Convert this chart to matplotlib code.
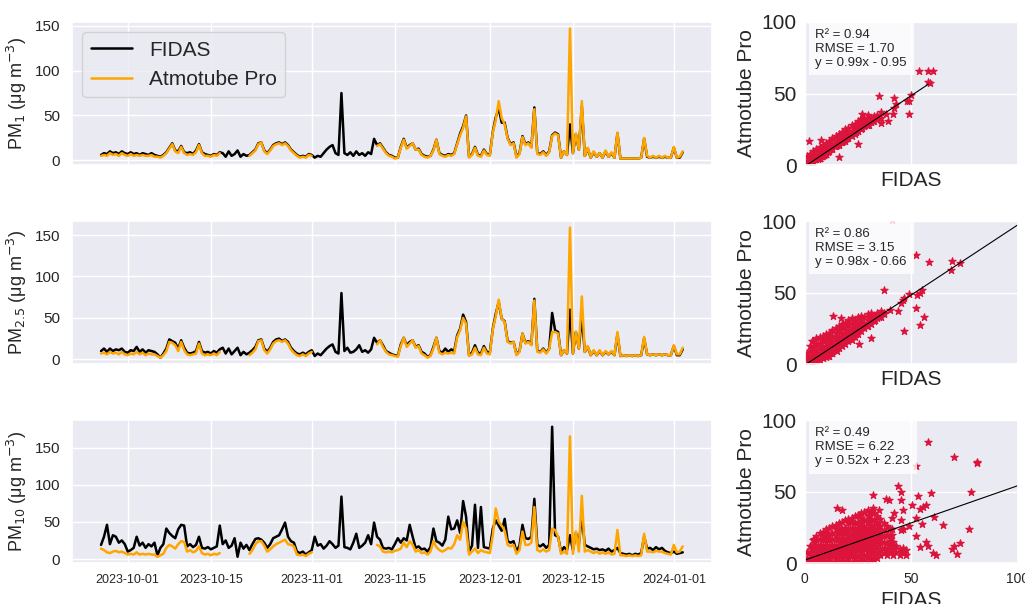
import matplotlib
matplotlib.use("Agg")
import matplotlib.pyplot as plt
import matplotlib.dates as mdates
import numpy as np
import pandas as pd
import seaborn as sns

nan = np.nan

# 12-hourly values, 2023-09-26 12:00 .. 2024-01-02 12:00
start = "2023-09-26 12:00"

pm1_fidas = ([6, 8, 7, 10, 8, 9, 7, 10, 8]
             + [7, 9, 7, 8, 6, 8, 7, 6, 8, 6, 5, 4, 6, 9]
             + [14, 19, 11, 10, 16, 9, 8, 9, 7, 11, 18, 9, 7, 6, 5, 7, 6, 9]
             + [8, 4, 10, 5, 7, 11, 4, 7, 5]
             + [6, 9, 12, 19, 20, 11, 8, 12, 17, 19, 20, 18, 20, 17, 12, 9, 6, 4, 5, 4, 7, 6]
             + [3, 5, 4, 8, 12, 15, 17, 8, 6, 75, 8, 6, 9, 5, 10, 6, 8, 5, 9, 7, 24]
             + [17, 19, 14, 9, 6, 5, 3, 3, 15, 24,
                14, 17, 19, 12, 13, 7, 5, 4, 5, 12,
                23, 8, 6, 5, 7, 6, 8, 19, 30, 38,
                50, 4, 7, 15, 6, 5, 12, 7, 6, 32,
                48, 58, 42, 42, 25, 18, 20, 4, 8, 27,
                18, 20, 15, 59, 8, 7, 10, 6, 10, 28,
                31, 29, 3, 10, 6, 40, 8, 29, 12, 60,
                5, 13, 3, 9, 4, 8, 3, 10, 4, 8,
                3, 30, 2, 2, 2, 2, 2, 2, 2, 3,
                24, 4, 3, 4, 3, 4, 3, 4, 3, 3,
                14, 3, 3, 9])
pm1_atmo = ([5, 6, 5, 8, 6, 7, 5, 8, 6]
            + [5, 7, 5, 6, 5, 6, 5, 5, 6, 4, 4, 3, 5, 8]
            + [13, 18, 10, 8, 15, 8, 6, 7, 6, 9, 17, 8, 5, 5, 4, 6, 5, 8]
            + [nan] * 9
            + [5, 8, 11, 18, 20, 10, 7, 11, 16, 18, 19, 17, 19, 16, 11, 8, 5, 3, 4, 3, 6, 5]
            + [nan] * 21
            + [16, 18, 13, 8, 5, 4, 2, 3, 14, 23,
               13, 16, 19, 12, 12, 6, 4, 3, 5, 11,
               23, 7, 5, 4, 6, 5, 7, 18, 28, 36,
               49, 3, 6, 14, 5, 4, 11, 6, 5, 31,
               45, 66, 47, 40, 24, 17, 19, 3, 7, 26,
               17, 19, 14, 57, 7, 6, 9, 5, 9, 27,
               30, 28, 3, 10, 6, 147, 8, 30, 12, 66,
               5, 14, 3, 10, 4, 8, 3, 11, 4, 9,
               3, 31, 2, 2, 2, 2, 2, 2, 2, 3,
               25, 5, 3, 5, 3, 5, 3, 5, 3, 3,
               15, 3, 4, 10])

pm25_fidas = ([10, 13, 9, 13, 10, 12, 11, 13, 9]
              + [8, 11, 10, 15, 9, 12, 8, 11, 10, 9, 6, 2, 7, 13]
              + [24, 22, 20, 13, 23, 14, 8, 7, 8, 10, 21, 10, 8, 9, 7, 10, 8, 12]
              + [14, 7, 13, 6, 10, 14, 5, 9, 6]
              + [8, 11, 15, 23, 24, 13, 9, 14, 21, 24, 25, 22, 24, 21, 14, 10, 7, 6, 8, 6, 9, 11]
              + [4, 7, 5, 9, 13, 16, 18, 9, 7, 80, 10, 14, 8, 9, 12, 17, 9, 11, 8, 12, 26]
              + [20, 23, 17, 10, 8, 6, 5, 4, 18, 26,
                 17, 21, 23, 15, 17, 9, 7, 3, 5, 15,
                 26, 10, 8, 13, 9, 12, 10, 29, 37, 54,
                 45, 5, 8, 17, 8, 7, 16, 9, 8, 37,
                 55, 69, 49, 46, 22, 20, 21, 6, 10, 31,
                 20, 22, 18, 73, 10, 9, 13, 8, 13, 56,
                 35, 33, 5, 11, 7, 60, 7, 33, 13, 52,
                 9, 15, 5, 10, 5, 10, 5, 9, 6, 9,
                 5, 30, 4, 5, 4, 5, 4, 5, 4, 5,
                 25, 6, 5, 6, 5, 6, 5, 6, 5, 5,
                 16, 5, 5, 12])
pm25_atmo = ([7, 8, 6, 9, 7, 8, 6, 9, 6]
             + [5, 7, 6, 9, 6, 8, 5, 7, 6, 6, 4, 2, 5, 10]
             + [21, 20, 17, 10, 21, 11, 6, 5, 6, 7, 19, 7, 5, 6, 5, 7, 5, 9]
             + [nan] * 9
             + [5, 8, 12, 22, 23, 11, 7, 12, 19, 22, 23, 21, 23, 19, 12, 8, 5, 4, 6, 4, 7, 9]
             + [nan] * 21
             + [18, 23, 15, 9, 6, 5, 4, 3, 16, 26,
                15, 19, 23, 14, 16, 7, 5, 2, 4, 13,
                26, 8, 6, 8, 7, 8, 7, 27, 35, 50,
                43, 4, 6, 14, 6, 5, 14, 7, 6, 36,
                52, 72, 49, 45, 21, 19, 21, 5, 9, 31,
                19, 21, 17, 71, 9, 8, 12, 7, 12, 33,
                33, 31, 5, 11, 7, 159, 7, 33, 13, 76,
                9, 16, 5, 11, 5, 11, 5, 10, 6, 10,
                5, 33, 4, 5, 4, 5, 4, 5, 4, 5,
                27, 6, 5, 6, 5, 6, 5, 6, 5, 5,
                17, 6, 6, 14])

pm10_fidas = ([19, 30, 46, 20, 32, 30, 22, 25, 20]
              + [10, 12, 15, 30, 18, 22, 15, 20, 17, 22, 5, 15, 20, 41]
              + [35, 31, 28, 40, 46, 45, 17, 20, 16, 19, 30, 15, 14, 16, 13, 15, 17, 45]
              + [20, 25, 15, 18, 28, 3, 22, 14, 19]
              + [12, 20, 27, 28, 26, 22, 15, 20, 28, 30, 32, 40, 49, 30, 24, 22, 10, 8, 10, 6, 9, 12]
              + [30, 18, 20, 14, 18, 24, 20, 15, 18, 84, 16, 15, 13, 22, 34, 15, 18, 22, 32, 20, 49]
              + [30, 26, 15, 14, 15, 13, 20, 28, 22, 28,
                 25, 46, 30, 15, 17, 13, 14, 10, 16, 41,
                 24, 22, 18, 26, 57, 40, 41, 52, 35, 78,
                 57, 10, 18, 73, 15, 70, 16, 15, 14, 41,
                 52, 45, 38, 54, 24, 22, 24, 10, 18, 46,
                 28, 27, 30, 81, 19, 17, 20, 15, 19, 178,
                 32, 30, 10, 16, 12, 32, 12, 35, 20, 58,
                 19, 17, 15, 13, 14, 12, 13, 11, 14, 10,
                 12, 15, 8, 7, 6, 7, 5, 7, 6, 8,
                 30, 14, 15, 12, 16, 13, 15, 11, 9, 8,
                 10, 7, 8, 9])
pm10_atmo = ([14, 12, 9, 8, 10, 11, 9, 10, 8]
             + [6, 7, 6, 9, 6, 7, 6, 7, 6, 6, 3, 5, 7, 15]
             + [19, 17, 14, 20, 24, 23, 10, 12, 9, 11, 17, 8, 6, 7, 5, 7, 6, 8]
             + [nan] * 9
             + [7, 12, 20, 24, 24, 18, 10, 13, 17, 20, 22, 24, 26, 20, 19, 17, 6, 5, 6, 4, 7, 9]
             + [nan] * 21
             + [19, 17, 10, 9, 10, 9, 11, 12, 14, 22,
                16, 24, 19, 10, 12, 8, 9, 6, 10, 24,
                16, 12, 10, 12, 15, 14, 20, 32, 26, 50,
                41, 6, 10, 14, 8, 12, 10, 9, 8, 32,
                68, 50, 45, 38, 19, 17, 19, 7, 12, 37,
                19, 19, 22, 70, 12, 10, 13, 10, 12, 41,
                39, 30, 7, 10, 7, 165, 7, 37, 10, 85,
                10, 12, 10, 8, 10, 7, 9, 7, 9, 6,
                7, 39, 5, 5, 4, 5, 4, 5, 4, 5,
                34, 10, 10, 9, 11, 10, 10, 8, 7, 6,
                19, 9, 10, 17])

# further (FIDAS, Atmotube) points
pm1_points = [
    (53.6, 66), (58, 58), (34.7, 48), (48.9, 44.5), (48.9, 35.7), (43, 43), (41.3, 35.7),
    (35.8, 29.3), (27, 35.7), (25.2, 14.8), (16, 5.5), (2.2, 17), (7.4, 17.6), (39, 31),
    (1, 0), (1, 3), (1, 6), (2.5, 1), (2.5, 4.5), (2.5, 8), (4, 2), (4, 6), (4, 9.5),
    (5.5, 4), (5.5, 7.5), (5.5, 11), (7, 5), (7, 9), (7, 12.5), (8.5, 7), (8.5, 10.5), (8.5, 14),
    (10, 8), (10, 12), (10, 15.5), (11.5, 10), (11.5, 13.5), (11.5, 17), (13, 11), (13, 15),
    (13, 19), (14.5, 13), (14.5, 16.5), (14.5, 20), (16, 14), (16, 18), (16, 22), (17.5, 16),
    (17.5, 19.5), (17.5, 23), (19, 17), (19, 21), (19, 25), (20.5, 19), (20.5, 22.5), (20.5, 26),
    (22, 20), (22, 24), (22, 28), (23.5, 22), (23.5, 25.5), (23.5, 29), (25, 24), (25, 27),
    (25, 31), (26.5, 25), (26.5, 28.5), (26.5, 32), (28, 27), (28, 30), (28, 33), (29.5, 28),
    (29.5, 31.5), (29.5, 35), (31, 30), (31, 33), (32.5, 31), (32.5, 34), (34, 32), (34, 35),
    (36, 33), (36, 37)]
pm25_points = [
    (40.9, 101), (58.3, 71.6), (68.8, 65.7), (37, 52), (46.5, 46), (52.8, 48),
    (52, 39), (53.9, 27.4), (46.5, 23), (13.2, 34), (17.2, 32.4), (31.3, 18), (25.5, 14.2),
    (3.5, 16), (40, 38), (44, 37),
    (1, 0), (1, 4), (1, 8), (2.5, 1), (2.5, 5), (2.5, 9), (2.5, 13), (4, 0), (4, 4), (4, 8),
    (4, 12), (4, 16), (5.5, 2), (5.5, 6), (5.5, 10), (5.5, 14), (5.5, 18), (7, 3), (7, 7),
    (7, 11), (7, 15), (7, 19), (8.5, 4), (8.5, 8), (8.5, 12), (8.5, 16), (8.5, 20), (10, 5),
    (10, 9), (10, 13), (10, 17), (10, 21), (11.5, 6), (11.5, 10), (11.5, 14), (11.5, 18),
    (11.5, 22), (13, 8), (13, 12), (13, 16), (13, 20), (13, 24), (14.5, 10), (14.5, 14),
    (14.5, 18), (14.5, 22), (14.5, 25), (16, 11), (16, 15), (16, 19), (16, 23), (16, 27),
    (17.5, 13), (17.5, 17), (17.5, 21), (17.5, 25), (17.5, 28), (19, 14), (19, 18), (19, 22),
    (19, 26), (19, 29), (20.5, 16), (20.5, 20), (20.5, 24), (20.5, 28), (20.5, 31), (22, 17),
    (22, 21), (22, 25), (22, 29), (22, 32), (23.5, 19), (23.5, 23), (23.5, 27), (23.5, 31),
    (25, 21), (25, 25), (25, 29), (25, 33), (26.5, 23), (26.5, 27), (26.5, 31), (26.5, 34),
    (28, 25), (28, 29), (28, 33), (29.5, 27), (29.5, 31), (29.5, 35), (31, 28), (31, 32),
    (31, 36), (32.5, 30), (32.5, 34), (34, 32), (34, 36), (36, 33), (36, 37)]
pm10_points = [
    (70, 74), (81, 70.6), (44, 54), (32, 47.5), (53.4, 47.3), (59.5, 49),
    (39.7, 44.5), (45, 44.2), (50.4, 41), (55.7, 39.4), (60.6, 32.6), (65, 27), (55, 27.5),
    (76.9, 23.9), (52, 18.9), (53.9, 11.3), (57.8, 12), (69.3, 10), (71.3, 6.6), (60, 7),
    (61.4, 5.7), (17.6, 37), (25.5, 34), (4.3, 17), (42, 35), (45, 30),
    (1, 0), (1, 4), (1, 8), (2.5, 0), (2.5, 4), (2.5, 8), (2.5, 12), (4, 1), (4, 5), (4, 9),
    (4, 13), (4, 16), (5.5, 0), (5.5, 4), (5.5, 8), (5.5, 12), (5.5, 16), (5.5, 19), (7, 1),
    (7, 5), (7, 9), (7, 13), (7, 17), (7, 21), (8.5, 0), (8.5, 4), (8.5, 8), (8.5, 12),
    (8.5, 16), (8.5, 20), (8.5, 22), (10, 1), (10, 5), (10, 9), (10, 13), (10, 17), (10, 21),
    (10, 24), (11.5, 0), (11.5, 4), (11.5, 8), (11.5, 12), (11.5, 16), (11.5, 20), (11.5, 25),
    (13, 1), (13, 5), (13, 9), (13, 13), (13, 17), (13, 21), (13, 26), (14.5, 0), (14.5, 4),
    (14.5, 8), (14.5, 12), (14.5, 16), (14.5, 20), (14.5, 24), (14.5, 27), (16, 1), (16, 5),
    (16, 9), (16, 13), (16, 17), (16, 21), (16, 25), (16, 28), (17.5, 0), (17.5, 4), (17.5, 8),
    (17.5, 12), (17.5, 16), (17.5, 20), (17.5, 24), (17.5, 29), (19, 1), (19, 5), (19, 9),
    (19, 13), (19, 17), (19, 21), (19, 25), (19, 30), (20.5, 0), (20.5, 4), (20.5, 8),
    (20.5, 12), (20.5, 16), (20.5, 20), (20.5, 24), (20.5, 28), (20.5, 31), (22, 1), (22, 5),
    (22, 9), (22, 13), (22, 17), (22, 21), (22, 25), (22, 29), (22, 32), (23.5, 0), (23.5, 4),
    (23.5, 8), (23.5, 12), (23.5, 16), (23.5, 20), (23.5, 24), (23.5, 28), (23.5, 33), (25, 1),
    (25, 5), (25, 9), (25, 13), (25, 17), (25, 21), (25, 25), (25, 29), (25, 34), (26.5, 0),
    (26.5, 4), (26.5, 8), (26.5, 12), (26.5, 16), (26.5, 20), (26.5, 24), (26.5, 28),
    (26.5, 32), (26.5, 35), (28, 2), (28, 6), (28, 10), (28, 14), (28, 18), (28, 22), (28, 26),
    (28, 30), (28, 36), (29.5, 1), (29.5, 5), (29.5, 9), (29.5, 13), (29.5, 17), (29.5, 21),
    (29.5, 25), (29.5, 29), (29.5, 33), (29.5, 37), (31, 3), (31, 7), (31, 11), (31, 15),
    (31, 19), (31, 23), (31, 27), (31, 31), (31, 36), (32.5, 2), (32.5, 6), (32.5, 10),
    (32.5, 14), (32.5, 18), (32.5, 22), (32.5, 26), (32.5, 30), (32.5, 35), (34, 4), (34, 8),
    (34, 12), (34, 16), (34, 20), (34, 24), (34, 28), (34, 33), (35.5, 6), (35.5, 10),
    (35.5, 14), (35.5, 18), (35.5, 22), (35.5, 26), (35.5, 31), (37, 7), (37, 11), (37, 15),
    (37, 19), (37, 23), (37, 28), (38.5, 6), (38.5, 10), (38.5, 14), (38.5, 20), (38.5, 26),
    (40, 8), (40, 12), (40, 18), (40, 24), (41.5, 6), (41.5, 10), (41.5, 15), (43, 8), (43, 12),
    (44.5, 6), (44.5, 10), (46, 8), (46, 11), (47.5, 6), (47.5, 9)]

r2 = [0.94, 0.86, 0.49]
rmse = [1.70, 3.15, 6.22]
slope = [0.99, 0.98, 0.52]
intercept = [-0.95, -0.66, 2.23]
fit_end = [58, 100, 100]

ylabels = ["PM$_{1}$ (μg m$^{-3}$)", "PM$_{2.5}$ (μg m$^{-3}$)", "PM$_{10}$ (μg m$^{-3}$)"]
tick_dates = ["2023-10-01", "2023-10-15", "2023-11-01", "2023-11-15",
              "2023-12-01", "2023-12-15", "2024-01-01"]

sns.set_theme(style="darkgrid")
plt.rcParams["font.family"] = ["Liberation Sans", "DejaVu Sans"]

times = pd.date_range(start, periods=len(pm1_fidas), freq="12h")
fidas = [pm1_fidas, pm25_fidas, pm10_fidas]
atmo = [pm1_atmo, pm25_atmo, pm10_atmo]
extra = [pm1_points, pm25_points, pm10_points]

fig = plt.figure(figsize=(10.25, 6.04), dpi=100)
gs = fig.add_gridspec(3, 2, width_ratios=[640, 213], left=0.0702, right=0.9929,
                      top=0.9636, bottom=0.0674, hspace=0.392, wspace=0.218)

ts0 = None
for r in range(3):
    ax = fig.add_subplot(gs[r, 0], sharex=ts0)
    if ts0 is None:
        ts0 = ax
    ax.plot(times, fidas[r], color="black", lw=1.8, label="FIDAS")
    ax.plot(times, atmo[r], color="orange", lw=1.8, label="Atmotube Pro")
    ax.set_yticks([0, 50, 100, 150])
    ax.set_ylabel(ylabels[r], fontsize=13)
    ax.set_xticks(pd.to_datetime(tick_dates))
    ax.xaxis.set_major_formatter(mdates.DateFormatter("%Y-%m-%d"))
    ax.tick_params(axis="y", labelsize=11, pad=2.5)
    ax.tick_params(axis="x", labelsize=9, pad=2)
    if r < 2:
        ax.tick_params(labelbottom=False)
    if r == 0:
        ax.legend(loc="upper left", fontsize=15)

    sx = fig.add_subplot(gs[r, 1])
    f = np.array(fidas[r], dtype=float)
    a = np.array(atmo[r], dtype=float)
    ok = ~np.isnan(f) & ~np.isnan(a)
    ex = np.array(extra[r], dtype=float)
    px = np.concatenate([f[ok], ex[:, 0]])
    py = np.concatenate([a[ok], ex[:, 1]])
    sx.scatter(px, py, marker="*", color="crimson", edgecolors="crimson", s=30, linewidths=0.8)
    xe = fit_end[r]
    sx.plot([0, xe], [intercept[r], slope[r] * xe + intercept[r]], color="black", lw=0.8)
    sign = "+" if intercept[r] >= 0 else "-"
    txt = f"R² = {r2[r]:.2f}\nRMSE = {rmse[r]:.2f}\ny = {slope[r]:.2f}x {sign} {abs(intercept[r]):.2f}"
    sx.text(0.05, 0.95, txt, transform=sx.transAxes, ha="left", va="top", fontsize=9.5,
            bbox=dict(boxstyle="square,pad=0.5", facecolor="white", edgecolor="none", alpha=0.8))
    sx.set_xlim(0, 100)
    sx.set_ylim(0, 100)
    sx.set_xticks([0, 50, 100])
    sx.set_yticks([0, 50, 100])
    sx.tick_params(axis="y", labelsize=15, pad=0)
    sx.tick_params(axis="x", labelsize=10, pad=0)
    sx.set_ylabel("Atmotube Pro", fontsize=15)
    sx.set_xlabel("FIDAS", fontsize=15)
    if r < 2:
        sx.tick_params(labelbottom=False)

fig.savefig("out.png", dpi=100)
